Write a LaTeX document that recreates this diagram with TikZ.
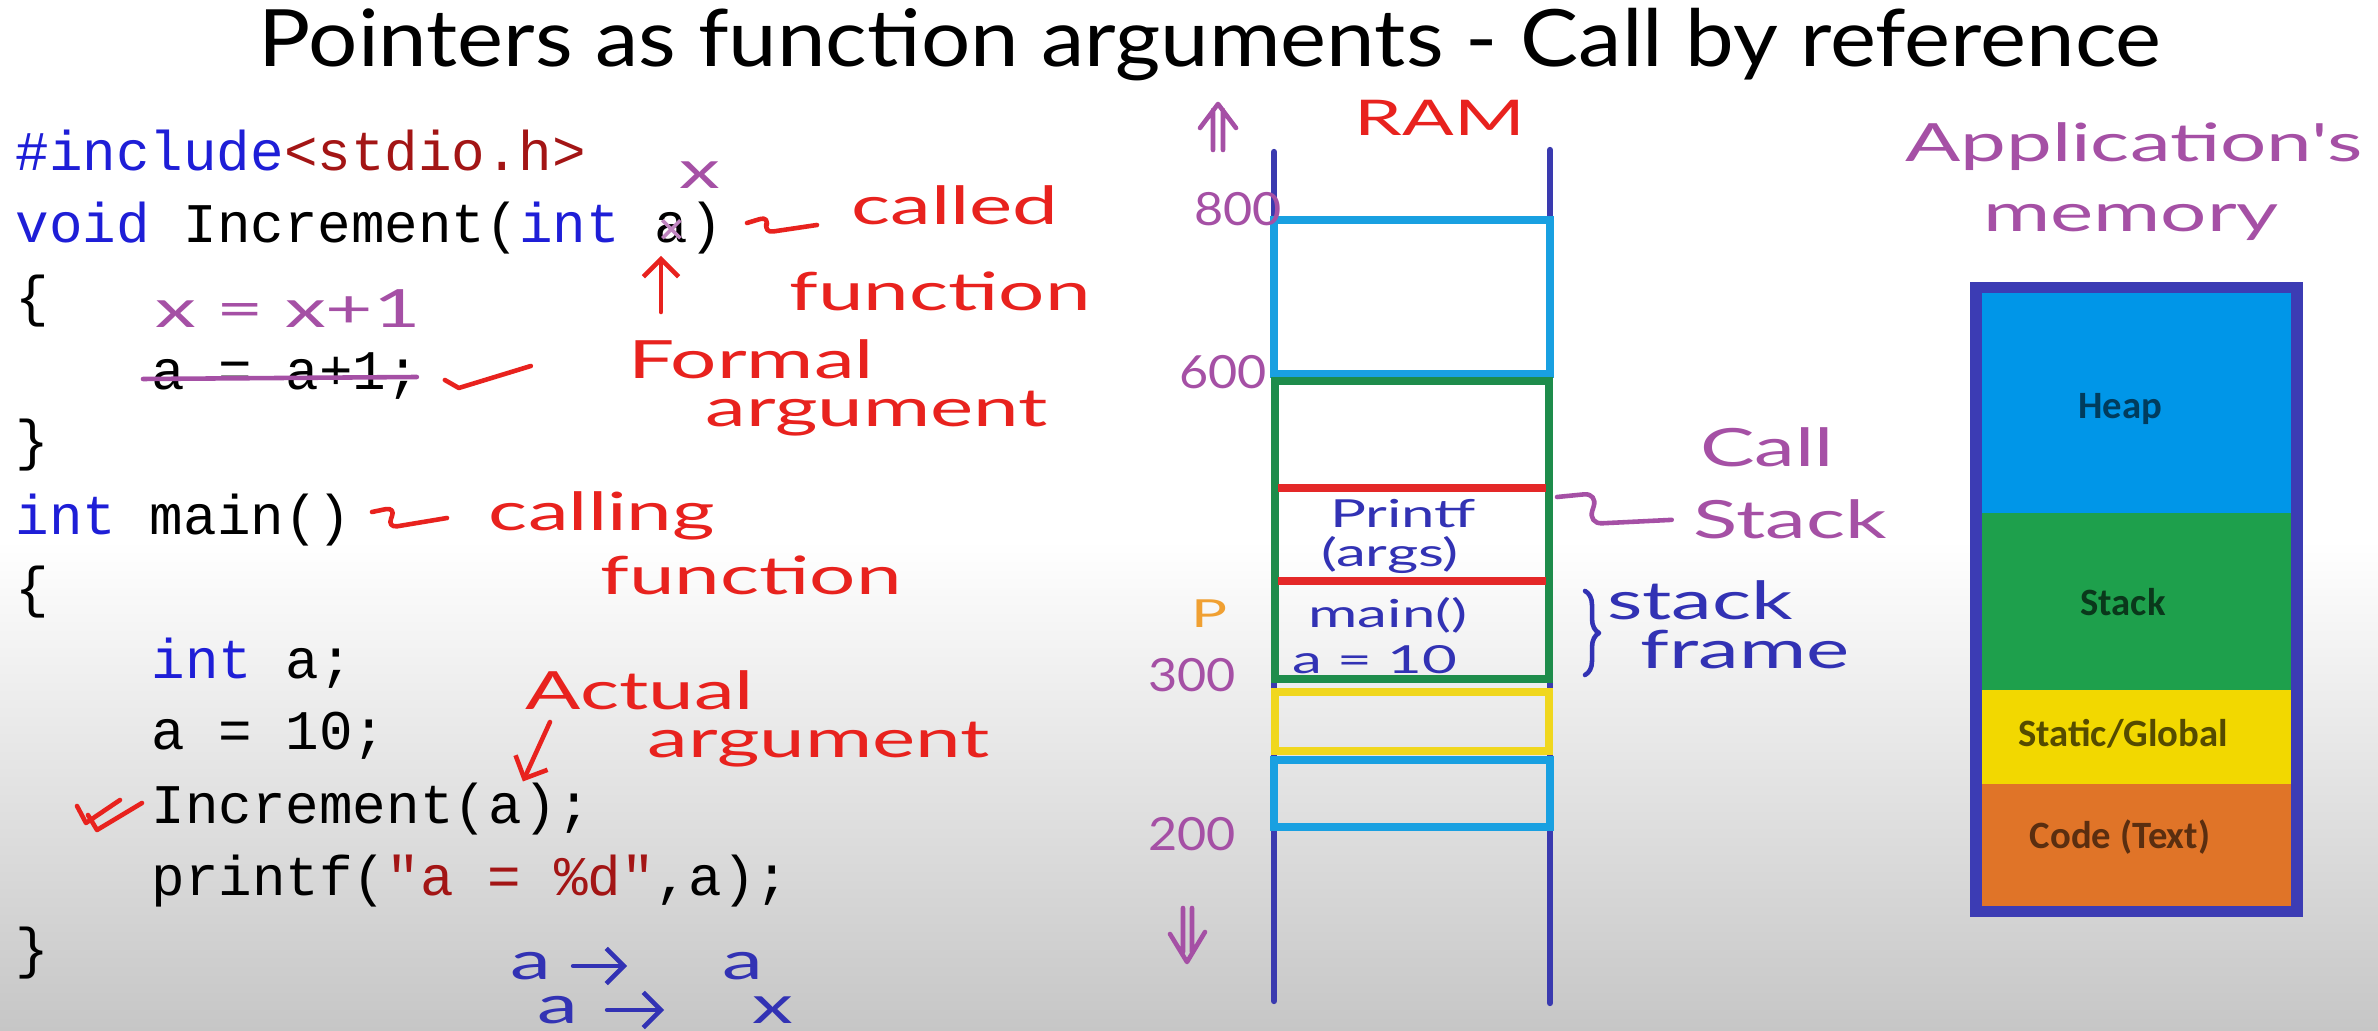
\documentclass[tikz,border=0pt]{standalone}
\usepackage{fontspec}
\usepackage{tikz}
\usetikzlibrary{arrows.meta,calc,positioning,decorations.pathreplacing}
\usepackage{xcolor}
\newfontfamily\codefont{Liberation Mono}
\newfontfamily\handfont[FakeStretch=1.55]{Lato}
\newfontfamily\titlefont[FakeStretch=1.1]{Lato}
\newfontfamily\segfont{Carlito}
\definecolor{kwblue}{RGB}{30,30,215}
\definecolor{strred}{RGB}{163,21,21}
\definecolor{penred}{RGB}{232,34,30}
\definecolor{penpurple}{RGB}{165,80,165}
\definecolor{penblue}{RGB}{50,50,180}
\definecolor{penorange}{RGB}{240,160,50}
\definecolor{ramblue}{RGB}{58,58,175}
\definecolor{ramcyan}{RGB}{25,160,225}
\definecolor{ramgreen}{RGB}{30,140,75}
\definecolor{ramred}{RGB}{228,40,40}
\definecolor{ramyellow}{RGB}{240,215,30}
\definecolor{memborder}{RGB}{60,60,180}
\definecolor{heapblue}{RGB}{0,150,232}
\definecolor{stackgreen}{RGB}{30,160,76}
\definecolor{statyellow}{RGB}{242,216,0}
\definecolor{codeorange}{RGB}{224,116,40}
\definecolor{bggray}{RGB}{198,198,198}

\begin{document}
\begin{tikzpicture}[x=0.01cm,y=-0.01cm,>={Straight Barb[length=5pt]},
  codeline/.style={font=\codefont\fontsize{15.9}{18}\selectfont,anchor=base west,inner xsep=0pt},
  handtext/.style={font=\handfont\fontsize{15}{17}\selectfont,inner sep=1pt},
  smallhand/.style={font=\handfont\fontsize{11}{13}\selectfont,inner sep=1pt},
  addr/.style={font=\titlefont\fontsize{13}{15}\selectfont,inner sep=1pt,penpurple},
  penline/.style={line width=1.3pt,line cap=round,line join=round},
  ram/.style={line width=2pt},
  segtext/.style={font=\segfont\bfseries\fontsize{11}{13}\selectfont}]
  % Hintergrund
  \useasboundingbox (0,0) rectangle (2378,1031);
  \fill[white] (0,0) rectangle (2378,1031);
  \shade[top color=white,bottom color=bggray] (0,540) rectangle (2378,1031);
  \node[font=\titlefont\fontsize{22.5}{24}\selectfont,inner sep=1pt] (titel) at (1210,45) {Pointers as function arguments - Call by reference};
  % Quelltext
  \node[codeline] (l1) at (15,171) {{\color{kwblue}\#include}{\color{strred}<stdio.h>}};
  \node[codeline] (l2) at (15,243) {{\color{kwblue}void} Increment({\color{kwblue}int}};
  \node[codeline,base right=9.54pt of l2] (aform) {a};
  \node[codeline,base right=0pt of aform] (l2b) {)};
  \node[codeline] (l3) at (15,316) {\{};
  \node[codeline] (l4) at (151,390) {a = a+1;};
  \node[codeline] (l5) at (15,460) {\}};
  \node[codeline] (l6) at (15,535) {{\color{kwblue}int} main()};
  \node[codeline] (l7) at (15,607) {\{};
  \node[codeline] (l8) at (151,679) {{\color{kwblue}int} a;};
  \node[codeline] (l9) at (151,750) {a = 10;};
  \node[codeline] (l10) at (151,824) {Increment(};
  \node[codeline,base right=0pt of l10] (aact) {a};
  \node[codeline,base right=0pt of aact] (l10b) {);};
  \node[codeline] (l11) at (151,896) {printf({\color{strred}\symbol{34}a = \%d\symbol{34}},a);};
  \node[codeline] (l12) at (15,968) {\}};
  % Anmerkungen zum Code
  \draw[penpurple!70,line width=1pt] ($(aform.center)+(-9,-8)$) -- ($(aform.center)+(9,10)$) ($(aform.center)+(9,-8)$) -- ($(aform.center)+(-9,10)$);
  \node[handtext,penpurple] (xoben) at (700,175) {x};
  \node[handtext,penpurple] (xneu) at (288,309) {x = x+1};
  \draw[penline,penpurple] ($(l4.base west)+(-8,-11)$) -- ($(l4.base east)+(-4,-13)$);
  \draw[penline,penred] ($(l4.base east)+(24,-10)$) -- ++(14,8) -- ++(72,-22);
  \node[handtext,penred] (called) at (955,205) {called};
  \node[handtext,penred] (calledfn) at (940,291) {function};
  \node[handtext,penred] (formal) at (751,359) {Formal};
  \node[handtext,penred] (formarg) at (877,414) {argument};
  \node[handtext,penred] (calling) at (602,516) {calling};
  \node[handtext,penred] (callingfn) at (751,575) {function};
  \node[handtext,penred] (actual) at (640,690) {Actual};
  \node[handtext,penred] (actarg) at (819,745) {argument};
  \coordinate (s1) at (747,223);
  \draw[penline,penred,rounded corners=3pt] (s1) -- (770,216) -- (763,233) -- (817,225);
  \coordinate (s2) at (372,512);
  \draw[penline,penred,rounded corners=3pt] (s2) -- (396,507) -- (387,528) -- (447,518);
  \coordinate (fpfeil) at (661,312);
  \draw[penline,penred,->] (fpfeil) -- (fpfeil |- aform.south);
  \coordinate (apfeil) at (550,722);
  \draw[penline,penred,->] (apfeil) -- (aact.north east);
  \draw[penline,penred] (77,806) -- (86,823) -- (120,800) (88,815) -- (97,830) -- (142,803);
  \node[handtext,penblue] (av1) at (531,966) {a};
  \node[handtext,penblue] (av2) at (743,966) {a};
  \draw[penline,penblue,->,shorten <=5pt,shorten >=26pt] (av1) -- (av2);
  \node[handtext,penblue] (av3) at (558,1010) {a};
  \node[handtext,penblue] (av4) at (773,1010) {x};
  \draw[penline,penblue,->,shorten <=7pt,shorten >=24pt] (av3) -- (av4);
  % RAM
  \node[handtext,penred,font=\handfont\fontsize{14}{16}\selectfont] (ram) at (1440,118) {RAM};
  \draw[ramblue,line width=1.8pt,line cap=round] (1274,152) -- (1274,1001);
  \draw[ramblue,line width=1.8pt,line cap=round] (1550,150) -- (1550,1003);
  \draw[ram,ramcyan] (1274,220) rectangle (1550,374);
  \draw[ram,ramgreen] (1275,381) rectangle (1549,679);
  \foreach \y in {488,581} \draw[ram,ramred] (1278,\y) -- (1546,\y);
  \draw[ram,ramyellow] (1275,692) rectangle (1549,751);
  \draw[ram,ramcyan] (1274,760) rectangle (1550,827);
  \node[addr] (a800) at (1238,209) {800};
  \node[addr] (a600) at (1223,372) {600};
  \node[addr] (a300) at (1192,675) {300};
  \node[addr] (a200) at (1192,834) {200};
  \node[smallhand,penorange] (pp) at (1209,614) {P};
  \draw[penline,penpurple] (1213,150) -- (1213,110) (1223,150) -- (1223,110) (1200,128) -- (1218,104) -- (1236,128);
  \draw[penline,penpurple] (1183,908) -- (1183,952) (1192,908) -- (1192,952) (1170,934) -- (1187,962) -- (1205,932);
  \node[smallhand,penblue] (printf) at (1403,514) {Printf};
  \node[smallhand,penblue] (args) at (1390,555) {(args)};
  \node[smallhand,penblue] (mainf) at (1388,615) {main()};
  \node[smallhand,penblue] (aval) at (1375,660) {a = 10};
  \node[handtext,penpurple] (call) at (1767,447) {Call};
  \node[handtext,penpurple] (stack) at (1790,519) {Stack};
  \coordinate (cs) at (1557,497);
  \draw[penline,penpurple,rounded corners=4pt,shorten >=5pt] (cs) -- (1598,493) -- (1588,524) -- (stack.west);
  \draw[penline,penblue,decorate,decoration={brace,amplitude=4pt}] (1585,591) -- (1585,675);
  \node[handtext,penblue] (sf1) at (1700,600) {stack};
  \node[handtext,penblue] (sf2) at (1745,650) {frame};
  % Speicher der Anwendung
  \node[handtext,penpurple] (appl) at (2134,147) {Application's};
  \node[handtext,penpurple] (mem) at (2131,222) {memory};
  \fill[memborder] (1970,282) rectangle (2303,917);
  \fill[heapblue] (1982,293) rectangle (2291,513);
  \fill[stackgreen] (1982,513) rectangle (2291,690);
  \fill[statyellow] (1982,690) rectangle (2291,784);
  \fill[codeorange] (1982,784) rectangle (2291,906);
  \node[segtext,heapblue!40!black] (heap) at (2120,409) {Heap};
  \node[segtext,stackgreen!35!black] (stk) at (2123,602) {Stack};
  \node[segtext,statyellow!35!black] (stat) at (2123,734) {Static/Global};
  \node[segtext,codeorange!40!black] (codetxt) at (2120,837) {Code (Text)};
\end{tikzpicture}
\end{document}
